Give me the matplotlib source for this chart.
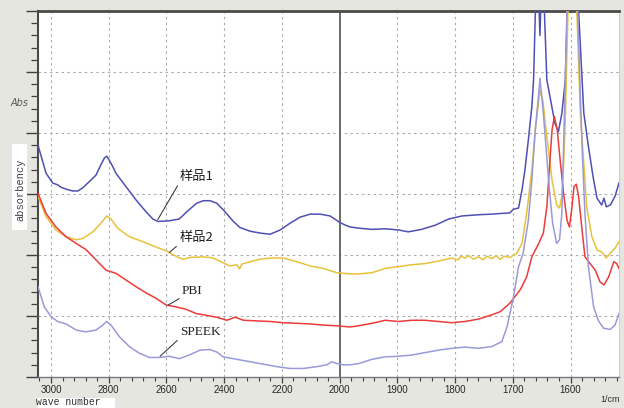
import numpy as np
import matplotlib
matplotlib.use("Agg")
import matplotlib.pyplot as plt
from matplotlib.patches import Rectangle
from matplotlib.ticker import FixedLocator, NullFormatter

# ---- spectra: wavenumber (1/cm) and absorbance --------------------------
wn_s1 = [3045, 3017, 2994, 2977, 2965, 2948, 2925, 2907, 2890, 2868, 2844, 2827,
         2815, 2807, 2799, 2786, 2775, 2740, 2705, 2671, 2647, 2630, 2591, 2556,
         2522, 2495, 2472, 2449, 2426, 2403, 2368, 2345, 2310, 2276, 2241, 2206,
         2172, 2137, 2102, 2068, 2033, 1999, 1990, 1982, 1967, 1944, 1921, 1898,
         1881, 1858, 1834, 1811, 1788, 1759, 1736, 1722, 1705, 1699, 1690, 1684,
         1679, 1673, 1667, 1664, 1660, 1656, 1653, 1650, 1646, 1641, 1627, 1621,
         1615, 1609, 1605, 1597, 1588, 1586, 1577, 1569, 1560, 1554, 1546, 1542,
         1538, 1531, 1523, 1516]
ab_s1 = [3.80, 3.34, 3.18, 3.15, 3.11, 3.08, 3.05, 3.05, 3.10, 3.20, 3.31, 3.48,
         3.59, 3.62, 3.56, 3.45, 3.34, 3.12, 2.90, 2.71, 2.59, 2.55, 2.56, 2.59,
         2.74, 2.85, 2.89, 2.89, 2.85, 2.74, 2.55, 2.45, 2.39, 2.36, 2.34, 2.41,
         2.52, 2.62, 2.67, 2.67, 2.64, 2.53, 2.49, 2.46, 2.44, 2.42, 2.43, 2.41,
         2.38, 2.42, 2.49, 2.59, 2.64, 2.66, 2.67, 2.68, 2.69, 2.75, 2.77, 3.07,
         3.39, 3.89, 4.43, 4.87, 6.30, 6.50, 5.60, 6.50, 6.20, 4.87, 4.16, 4.02,
         4.32, 4.87, 6.20, 7.00, 6.20, 6.00, 4.33, 3.78, 3.23, 2.93, 2.82, 2.93,
         2.79, 2.82, 2.96, 3.18]

wn_s2 = [3045, 3017, 2983, 2948, 2913, 2890, 2855, 2827, 2807, 2792, 2769, 2729,
         2682, 2636, 2601, 2567, 2543, 2518, 2472, 2437, 2403, 2380, 2356, 2347,
         2339, 2310, 2276, 2241, 2195, 2148, 2102, 2056, 2010, 1982, 1967, 1944,
         1921, 1898, 1875, 1852, 1829, 1806, 1795, 1790, 1783, 1776, 1768, 1759,
         1752, 1745, 1736, 1729, 1722, 1714, 1705, 1693, 1684, 1676, 1667, 1661,
         1655, 1653, 1648, 1641, 1632, 1624, 1619, 1615, 1612, 1609, 1606, 1603,
         1597, 1591, 1589, 1583, 1577, 1572, 1563, 1554, 1546, 1538, 1531, 1523,
         1516]
ab_s2 = [2.96, 2.63, 2.41, 2.30, 2.25, 2.27, 2.38, 2.52, 2.64, 2.59, 2.44, 2.30,
         2.22, 2.13, 2.07, 1.98, 1.93, 1.96, 1.97, 1.95, 1.87, 1.82, 1.84, 1.77,
         1.85, 1.89, 1.93, 1.95, 1.95, 1.89, 1.82, 1.78, 1.71, 1.69, 1.69, 1.71,
         1.78, 1.81, 1.84, 1.86, 1.90, 1.95, 1.92, 1.98, 1.95, 1.99, 1.93, 1.97,
         1.92, 1.98, 1.94, 1.99, 1.93, 1.98, 1.96, 2.03, 2.19, 2.68, 3.39, 4.05,
         4.54, 4.70, 4.54, 3.94, 3.23, 2.82, 2.77, 2.96, 3.50, 4.21, 5.40, 6.50,
         7.00, 6.40, 6.00, 4.32, 3.50, 2.79, 2.30, 2.08, 2.05, 1.95, 2.03, 2.11,
         2.22]

wn_pbi = [3045, 3017, 2983, 2948, 2913, 2879, 2844, 2809, 2775, 2740, 2705, 2671,
          2636, 2601, 2567, 2532, 2497, 2472, 2426, 2391, 2362, 2333, 2287, 2241,
          2195, 2148, 2102, 2056, 2010, 1982, 1967, 1944, 1921, 1898, 1875, 1852,
          1829, 1806, 1783, 1759, 1736, 1722, 1705, 1687, 1676, 1667, 1655, 1647,
          1641, 1636, 1632, 1628, 1623, 1618, 1612, 1606, 1602, 1598, 1594, 1590,
          1586, 1580, 1575, 1566, 1557, 1549, 1542, 1534, 1525, 1520, 1516]
ab_pbi = [3.01, 2.68, 2.46, 2.30, 2.19, 2.09, 1.92, 1.75, 1.70, 1.59, 1.48, 1.38,
          1.29, 1.18, 1.15, 1.11, 1.04, 1.02, 0.98, 0.93, 0.98, 0.93, 0.92, 0.91,
          0.89, 0.88, 0.87, 0.85, 0.84, 0.82, 0.84, 0.88, 0.93, 0.91, 0.93, 0.93,
          0.91, 0.89, 0.91, 0.95, 1.02, 1.07, 1.21, 1.43, 1.64, 1.97, 2.19, 2.36,
          2.79, 3.50, 4.05, 4.27, 4.05, 3.56, 3.01, 2.57, 2.46, 2.74, 3.12, 3.16,
          2.96, 2.41, 1.97, 1.86, 1.75, 1.56, 1.51, 1.64, 1.89, 1.86, 1.78]

wn_speek = [3045, 3023, 3000, 2977, 2948, 2913, 2879, 2844, 2821, 2807, 2792, 2763,
            2729, 2694, 2659, 2625, 2590, 2555, 2521, 2484, 2449, 2426, 2403, 2356,
            2310, 2264, 2218, 2172, 2125, 2079, 2044, 2027, 2010, 1993, 1982, 1967,
            1944, 1921, 1898, 1875, 1852, 1829, 1806, 1783, 1759, 1736, 1719, 1710,
            1699, 1690, 1682, 1673, 1667, 1661, 1655, 1653, 1647, 1638, 1631, 1624,
            1619, 1615, 1612, 1609, 1606, 1597, 1588, 1580, 1575, 1569, 1560, 1552,
            1543, 1531, 1523, 1516]
ab_speek = [1.48, 1.15, 0.99, 0.91, 0.87, 0.77, 0.74, 0.77, 0.85, 0.91, 0.85, 0.66,
            0.50, 0.39, 0.32, 0.32, 0.34, 0.30, 0.36, 0.44, 0.45, 0.41, 0.33, 0.29,
            0.25, 0.21, 0.17, 0.14, 0.14, 0.17, 0.20, 0.25, 0.22, 0.20, 0.20, 0.22,
            0.29, 0.33, 0.34, 0.36, 0.40, 0.44, 0.47, 0.49, 0.47, 0.50, 0.58, 0.82,
            1.30, 1.81, 2.03, 2.57, 3.23, 4.05, 4.65, 4.90, 4.32, 3.23, 2.52, 2.19,
            2.25, 2.68, 3.78, 4.87, 6.10, 6.80, 6.10, 3.78, 2.68, 1.81, 1.15, 0.93,
            0.80, 0.78, 0.85, 1.04]

series = [
    ("样品1", wn_s1, ab_s1, "#4f4fb4"),
    ("样品2", wn_s2, ab_s2, "#e8c23a"),
    ("PBI", wn_pbi, ab_pbi, "#ec3b3b"),
    ("SPEEK", wn_speek, ab_speek, "#9a9ada"),
]

# curve labels: (text, label anchor, point on curve)
labels = [
    ("样品1", (2556, 3.18), (2630, 2.58)),
    ("样品2", (2556, 2.18), (2590, 2.04)),
    ("PBI", (2546, 1.31), (2594, 1.18)),
    ("SPEEK", (2553, 0.64), (2622, 0.34)),
]

major_x = [3000, 2800, 2600, 2400, 2200, 2000, 1900, 1800, 1700, 1600]
minor_x = [w for w in range(3040, 2000, -40) if w % 200 != 0] + \
          [w for w in range(1980, 1510, -20) if w % 100 != 0]

# ---- axis with a scale change at 2000 1/cm ------------------------------
def fwd(w):
    w = np.asarray(w, dtype=float)
    return np.where(w > 2000, 2000 + (w - 2000) / 2.0, w)


def inv(v):
    v = np.asarray(v, dtype=float)
    return np.where(v > 2000, 2000 + (v - 2000) * 2.0, v)


bg = "#e6e6e0"
fig = plt.figure(figsize=(6.24, 4.08), dpi=100, facecolor=bg)
ax = fig.add_axes([38 / 624, 31 / 408, 581 / 624, 366 / 408])
ax.set_facecolor("white")
ax.set_xscale("function", functions=(fwd, inv))
ax.set_xlim(3045, 1516)
ax.set_ylim(0, 6)

grid_kw = dict(color="#ababab", lw=0.8, ls=(0, (2.2, 3.0)), zorder=0)
for w in major_x:
    if w != 2000:
        ax.axvline(w, **grid_kw)
for a in range(1, 6):
    ax.axhline(a, **grid_kw)
ax.axvline(2000, color="#6a6a6a", lw=1.4, zorder=1)

for name, wn, ab, col in series:
    ax.plot(wn, ab, color=col, lw=1.1, zorder=3)

for text, anchor, point in labels:
    fam = ["Noto Sans CJK SC", "DejaVu Sans"] if not text.isascii() else ["Liberation Serif"]
    ax.annotate(text, xy=point, xytext=anchor, ha="left", va="bottom",
                fontsize=9.5, family=fam, color="#202020",
                arrowprops=dict(arrowstyle="-", color="#404040", lw=0.8,
                                relpos=(0, 0), shrinkA=0, shrinkB=0),
                zorder=4)

# ticks
ax.xaxis.set_major_locator(FixedLocator(major_x))
ax.xaxis.set_minor_locator(FixedLocator(minor_x))
ax.xaxis.set_minor_formatter(NullFormatter())
ax.set_xticklabels([str(w) for w in major_x])
ax.yaxis.set_major_locator(FixedLocator(range(0, 7)))
ax.yaxis.set_minor_locator(FixedLocator(np.arange(0.2, 6.0, 0.2)))
ax.tick_params(axis="y", which="major", length=9, width=1.0, color="#404040",
               direction="out", labelleft=False)
ax.tick_params(axis="y", which="minor", length=5, width=0.9, color="#404040",
               direction="out")
ax.tick_params(axis="x", which="major", length=4, width=0.9, color="#404040",
               direction="out", pad=2, labelsize=7, labelcolor="#282828")
ax.tick_params(axis="x", which="minor", length=3, width=0.8, color="#404040",
               direction="out")
for lab in ax.get_xticklabels():
    lab.set_family("Liberation Sans")

ax.spines["top"].set_color("#4a4a4a")
ax.spines["top"].set_linewidth(2.0)
ax.spines["left"].set_color("#4a4a4a")
ax.spines["left"].set_linewidth(1.5)
ax.spines["bottom"].set_color("#7a7a7a")
ax.spines["bottom"].set_linewidth(1.0)
ax.spines["right"].set_color("#cfcfcf")
ax.spines["right"].set_linewidth(0.8)

# axis captions
fig.text(20 / 624, 1 - 103 / 408, "Abs", fontsize=7, style="italic",
         color="#5a5a5a", ha="center", va="center", family="DejaVu Sans")
fig.patches.append(Rectangle((12 / 624, 1 - 230 / 408), 15 / 624, 86 / 408,
                             transform=fig.transFigure, facecolor="white",
                             edgecolor="none"))
fig.text(20 / 624, 1 - 190 / 408, "absorbency", rotation=90, fontsize=7.5,
         color="#404040", ha="center", va="center", family="Liberation Mono")
fig.patches.append(Rectangle((38 / 624, 0), 77 / 624, 10 / 408,
                             transform=fig.transFigure, facecolor="white",
                             edgecolor="none"))
fig.text(68 / 624, 1 - 402 / 408, "wave number", fontsize=7,
         color="#303030", ha="center", va="center", family="Liberation Mono")
fig.text(610 / 624, 1 - 400 / 408, "1/cm", fontsize=6.5,
         color="#303030", ha="center", va="center", family="Liberation Sans")

fig.savefig("out.png", dpi=100, facecolor=bg)
